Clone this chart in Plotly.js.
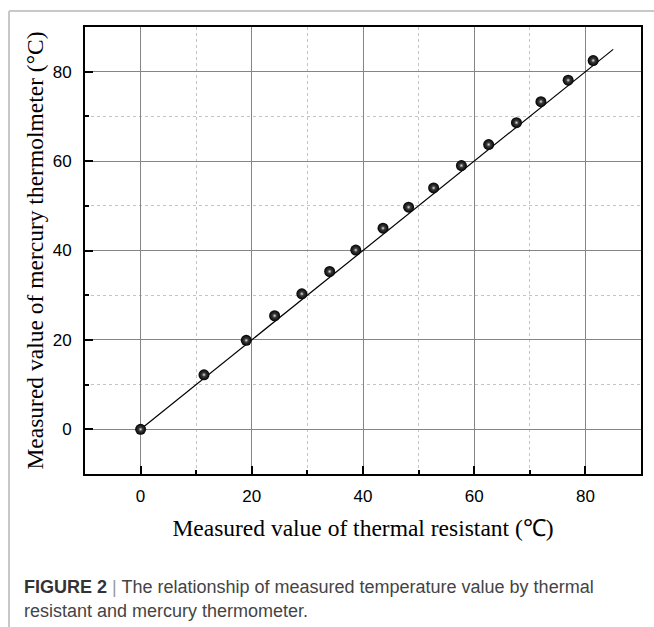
<!DOCTYPE html>
<html>
<head>
<meta charset="utf-8">
<script src="https://cdn.plot.ly/plotly-3.0.1.min.js"></script>
<style>
  html, body { margin: 0; padding: 0; background: #fff; }
  #chart { width: 654px; height: 627px; }
</style>
</head>
<body>
<div id="chart"></div>
<script>
// Thermal resistor reading vs mercury thermometer reading (°C)
const thermalResistant = [0, 11.4, 19.0, 24.1, 29.0, 34.0, 38.7, 43.6, 48.2, 52.7, 57.7, 62.6, 67.6, 72.0, 76.9, 81.4];
const mercuryThermometer = [0, 12.2, 19.9, 25.4, 30.3, 35.3, 40.1, 45.0, 49.7, 54.0, 59.0, 63.7, 68.6, 73.3, 78.1, 82.5];

// Linear fit line end points
const fitX = [0, 85];
const fitY = [0, 85];

const xTickVals = [0, 20, 40, 60, 80];
const yTickVals = [0, 20, 40, 60, 80];

const plotLeft = 85, plotRight = 641, plotTop = 27, plotBottom = 474;
const W = 654, H = 627;
const pw = plotRight - plotLeft, ph = plotBottom - plotTop;
const px = x => (x - plotLeft) / pw;
const py = y => (plotBottom - y) / ph;

const traces = [
  {
    x: fitX, y: fitY, type: 'scatter', mode: 'lines',
    line: { color: '#000', width: 1.2 },
    hoverinfo: 'skip', showlegend: false
  },
  {
    x: thermalResistant, y: mercuryThermometer, type: 'scatter', mode: 'markers',
    marker: {
      size: 11, color: '#000',
      gradient: { type: 'radial', color: '#5c5c5c' },
      line: { width: 0 }
    },
    showlegend: false
  },
  {
    // soft highlight on each sphere
    x: thermalResistant, y: mercuryThermometer, type: 'scatter', mode: 'markers',
    marker: {
      size: 4, color: 'rgba(200,200,200,0.0)',
      gradient: { type: 'radial', color: 'rgba(240,240,240,0.9)' },
      line: { width: 0 }
    },
    hoverinfo: 'skip', showlegend: false
  }
];

const axisCommon = {
  range: [-10, 90],
  tickmode: 'array',
  showline: true, linecolor: '#000', linewidth: 2, mirror: true,
  ticks: 'inside', ticklen: 8, tickwidth: 2, tickcolor: '#000',
  showgrid: true, gridcolor: '#858585', gridwidth: 1,
  zeroline: false,
  tickfont: { family: 'Liberation Sans, Arial, sans-serif', size: 17, color: '#000' },
  minor: {
    dtick: 10, tick0: 0, ticks: 'inside', ticklen: 4, tickwidth: 2, tickcolor: '#000',
    showgrid: true, gridcolor: '#c4c4c4', gridwidth: 1, griddash: 'dot'
  }
};

const layout = {
  width: W, height: H,
  margin: { l: plotLeft, r: W - plotRight, t: plotTop, b: H - plotBottom, autoexpand: false },
  paper_bgcolor: '#fff', plot_bgcolor: '#fff',
  xaxis: Object.assign({}, axisCommon, {
    tickvals: xTickVals,
    ticklabelstandoff: 6,
    title: {
      text: 'Measured value of thermal resistant (℃)',
      font: { family: 'Liberation Serif, Times New Roman, serif', size: 23.5, color: '#000' },
      standoff: 14
    }
  }),
  yaxis: Object.assign({}, axisCommon, {
    tickvals: yTickVals,
    ticklabelstandoff: 8,
    title: {
      text: 'Measured value of mercury thermolmeter (°C)',
      font: { family: 'Liberation Serif, Times New Roman, serif', size: 23.5, color: '#000' },
      standoff: 2
    }
  }),
  shapes: [
    { type: 'line', xref: 'paper', yref: 'paper', x0: px(9), x1: px(W), y0: py(11), y1: py(11),
      line: { color: '#c8c8c8', width: 2 } },
    { type: 'line', xref: 'paper', yref: 'paper', x0: px(9), x1: px(9), y0: py(11), y1: py(H),
      line: { color: '#c8c8c8', width: 2 } }
  ],
  annotations: [
    { xref: 'paper', yref: 'paper', x: px(22), y: py(587), xanchor: 'left', yanchor: 'middle',
      showarrow: false, align: 'left',
      font: { family: 'Liberation Sans, Arial, sans-serif', size: 18, color: '#444' },
      text: '<b style="color:#333">FIGURE 2</b> <span style="color:#999">|</span> The relationship of measured temperature value by thermal' },
    { xref: 'paper', yref: 'paper', x: px(22), y: py(611), xanchor: 'left', yanchor: 'middle',
      showarrow: false, align: 'left',
      font: { family: 'Liberation Sans, Arial, sans-serif', size: 18, color: '#444' },
      text: 'resistant and mercury thermometer.' }
  ]
};

Plotly.newPlot('chart', traces, layout, { displayModeBar: false, staticPlot: true });
</script>
</body>
</html>
